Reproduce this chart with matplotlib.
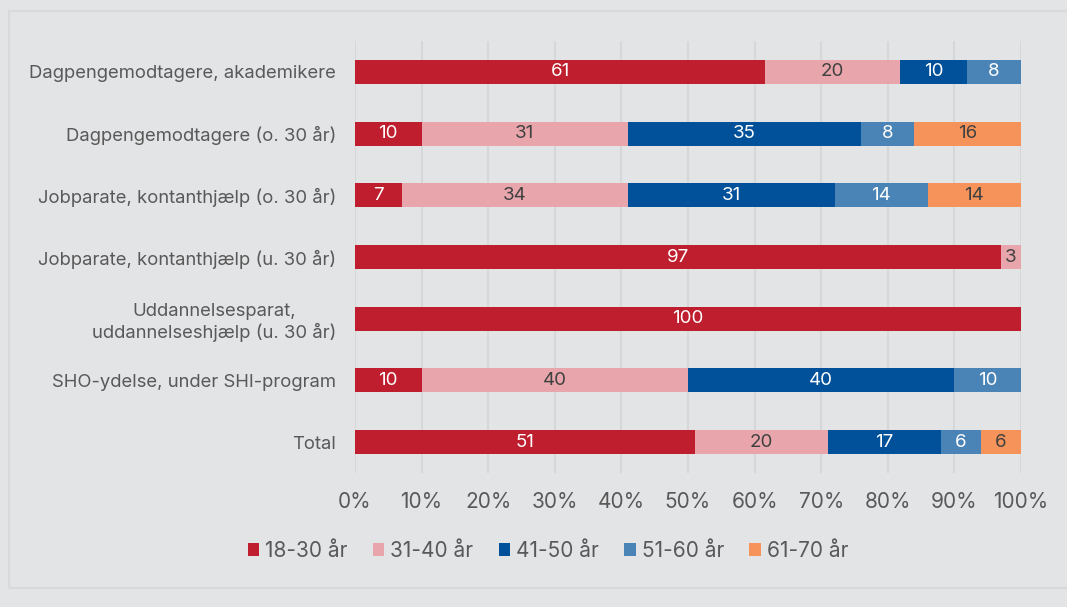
import numpy as np
import matplotlib.pyplot as plt
from matplotlib.patches import Rectangle

plt.rcParams["font.family"] = ["Inter", "DejaVu Sans"]

categories = [
    "Dagpengemodtagere, akademikere",
    "Dagpengemodtagere (o. 30 år)",
    "Jobparate, kontanthjælp (o. 30 år)",
    "Jobparate, kontanthjælp (u. 30 år)",
    "Uddannelsesparat,\nuddannelseshjælp (u. 30 år)",
    "SHO-ydelse, under SHI-program",
    "Total",
]
age_groups = ["18-30 år", "31-40 år", "41-50 år", "51-60 år", "61-70 år"]

# shares per age group, one value per category (0 = no bar segment)
share_18_30 = [61, 10, 7, 97, 100, 10, 51]
share_31_40 = [20, 31, 34, 3, 0, 40, 20]
share_41_50 = [10, 35, 31, 0, 0, 40, 17]
share_51_60 = [8, 8, 14, 0, 0, 10, 6]
share_61_70 = [0, 16, 14, 0, 0, 0, 6]

colors = ["#BE1E2D", "#E8A6AC", "#00509A", "#4A83B6", "#F5935A"]
label_colors = ["white", "#404040", "white", "white", "#404040"]

series = np.array([share_18_30, share_31_40, share_41_50, share_51_60, share_61_70], dtype=float)
pct = series / series.sum(axis=0) * 100

bg = "#E3E4E6"
fig = plt.figure(figsize=(10.67, 6.07), dpi=100, facecolor=bg)
ax = fig.add_axes([355 / 1067, 1 - 473 / 607, 666 / 1067, 432 / 607])
ax.set_facecolor(bg)

# frame around the chart area
fig.patches.append(Rectangle((9 / 1067, 1 - 588 / 607), 1.1, 577 / 607,
                             transform=fig.transFigure, fill=False,
                             edgecolor="#D8D9DB", lw=1.5, zorder=0))

y = np.arange(len(categories))
left = np.zeros(len(categories))
for i, name in enumerate(age_groups):
    bars = ax.barh(y, pct[i], left=left, height=0.39, color=colors[i],
                   label=name, zorder=3)
    for j, b in enumerate(bars):
        if series[i, j] > 0:
            ax.text(left[j] + pct[i, j] / 2, y[j], f"{series[i, j]:.0f}",
                    ha="center", va="center", color=label_colors[i],
                    fontsize=13.5, zorder=4)
    left += pct[i]

ax.set_xlim(0, 100)
ax.set_ylim(len(categories) - 0.5, -0.5)
ax.set_xticks(np.arange(0, 101, 10))
ax.set_xticklabels([f"{t}%" for t in range(0, 101, 10)])
ax.set_yticks(y)
ax.set_yticklabels(categories, multialignment="center")
ax.tick_params(axis="x", length=0, labelsize=15, labelcolor="#595959", pad=14)
ax.tick_params(axis="y", length=0, labelsize=13.3, labelcolor="#595959", pad=13.5)
ax.grid(axis="x", color="#D6D7D9", lw=1.5, zorder=0)
for s in ax.spines.values():
    s.set_visible(False)

leg = fig.legend(loc="center", bbox_to_anchor=(548 / 1067, 1 - 551 / 607),
                 ncol=5, frameon=False, fontsize=15, handlelength=0.55,
                 handleheight=0.55, handletextpad=0.3, columnspacing=1.2,
                 labelcolor="#595959")

fig.savefig("out.png", dpi=100, facecolor=bg)
